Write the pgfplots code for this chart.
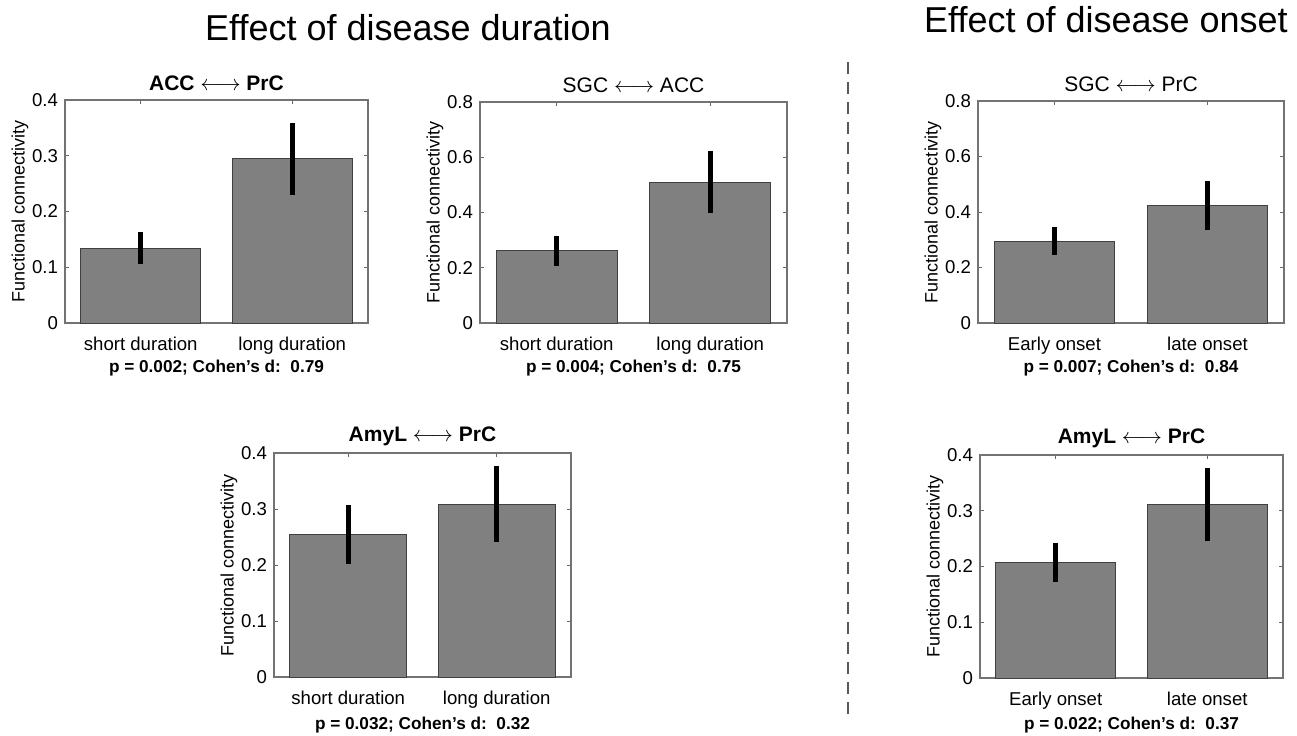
\documentclass[border=0pt]{standalone}
\usepackage{fontspec}
\setmainfont{Liberation Sans}
\usepackage{pgfplots}
\pgfplotsset{compat=1.18}
\usetikzlibrary{calc}

\pgfplotsset{
  fcbar/.style={
    anchor=north west, scale only axis,
    xmin=0.5, xmax=2.5, ymin=0,
    xtick={1,2}, tick align=inside, major tick length=2pt,
    axis line style={black!55, line width=0.6pt},
    tick style={black!60, line width=0.5pt},
    ylabel={Functional connectivity},
    tick label style={font=\fontsize{9.3}{10}\selectfont},
    xticklabel style={yshift=-3.5pt},
    ylabel style={font=\fontsize{9}{10}\selectfont, at={($(axis description cs:0,0.5)+(-22.5pt,0)$)}, anchor=center},
    every axis title shift=0pt,
    title style={font=\fontsize{10.5}{12}\selectfont, at={(axis description cs:0.5,1)}, anchor=center, yshift=8.5pt},
    xlabel style={font=\bfseries\fontsize{8.6}{10}\selectfont, at={(axis description cs:0.5,0)}, anchor=center, yshift=-22.5pt},
    /pgf/number format/assume math mode=true,
    yticklabel style={/pgf/number format/fixed},
  },
  fcplot/.style={
    ybar, bar width=0.79, bar shift=0pt,
    fill=gray, draw=black!75, line width=0.5pt,
    error bars/y dir=both, error bars/y explicit,
    error bars/error mark=none,
    error bars/error bar style={line width=2.6pt, black, solid}},
}

\begin{document}
\begin{tikzpicture}
\useasboundingbox (0,0) rectangle (648.5pt,-367.5pt);

\node[font=\fontsize{18}{20}\selectfont] at (204pt,-14pt) {Effect of disease duration};
\node[font=\fontsize{18}{20}\selectfont] at (553pt,-10pt) {Effect of disease onset};
\draw[black!65, line width=1.2pt, dash pattern=on 6pt off 4pt] (424pt,-31pt) -- (424pt,-360pt);

% ACC <-> PrC, duration
\begin{axis}[fcbar, at={(32.5pt,-50pt)}, width=151.5pt, height=111.5pt,
  ymax=0.4, ytick={0,0.1,0.2,0.3,0.4},
  xticklabels={short duration, long duration},
  title={\bfseries ACC $\longleftrightarrow$ PrC},
  xlabel={p = 0.002; Cohen's d:\ \ 0.79}]
\addplot[fcplot] table[y error plus=ep, y error minus=em] {
x y ep em
1 0.134 0.029 0.028
2 0.295 0.064 0.065
};
\end{axis}

% SGC <-> ACC, duration
\begin{axis}[fcbar, at={(240pt,-51pt)}, width=153.5pt, height=110.5pt,
  ymax=0.8, ytick={0,0.2,0.4,0.6,0.8},
  xticklabels={short duration, long duration},
  title={SGC $\longleftrightarrow$ ACC},
  xlabel={p = 0.004; Cohen's d:\ \ 0.75}]
\addplot[fcplot] table[y error plus=ep, y error minus=em] {
x y ep em
1 0.262 0.054 0.054
2 0.508 0.115 0.108
};
\end{axis}

% SGC <-> PrC, onset
\begin{axis}[fcbar, at={(489pt,-50.5pt)}, width=153pt, height=111pt,
  ymax=0.8, ytick={0,0.2,0.4,0.6,0.8},
  xticklabels={Early onset, late onset},
  title={SGC $\longleftrightarrow$ PrC},
  xlabel={p = 0.007; Cohen's d:\ \ 0.84}]
\addplot[fcplot] table[y error plus=ep, y error minus=em] {
x y ep em
1 0.295 0.051 0.049
2 0.422 0.090 0.088
};
\end{axis}

% AmyL <-> PrC, duration
\begin{axis}[fcbar, at={(137pt,-226.5pt)}, width=148.5pt, height=112pt,
  ymax=0.4, ytick={0,0.1,0.2,0.3,0.4},
  xticklabels={short duration, long duration},
  title={\bfseries AmyL $\longleftrightarrow$ PrC},
  xlabel style={yshift=-1.5pt},
  xlabel={p = 0.032; Cohen's d:\ \ 0.32}]
\addplot[fcplot] table[y error plus=ep, y error minus=em] {
x y ep em
1 0.254 0.054 0.053
2 0.308 0.068 0.067
};
\end{axis}

% AmyL <-> PrC, onset
\begin{axis}[fcbar, at={(490pt,-227.5pt)}, width=151.5pt, height=111.5pt,
  ymax=0.4, ytick={0,0.1,0.2,0.3,0.4},
  xticklabels={Early onset, late onset},
  title={\bfseries AmyL $\longleftrightarrow$ PrC},
  xlabel style={yshift=-1pt},
  xlabel={p = 0.022; Cohen's d:\ \ 0.37}]
\addplot[fcplot] table[y error plus=ep, y error minus=em] {
x y ep em
1 0.207 0.035 0.035
2 0.312 0.065 0.067
};
\end{axis}
\end{tikzpicture}
\end{document}
